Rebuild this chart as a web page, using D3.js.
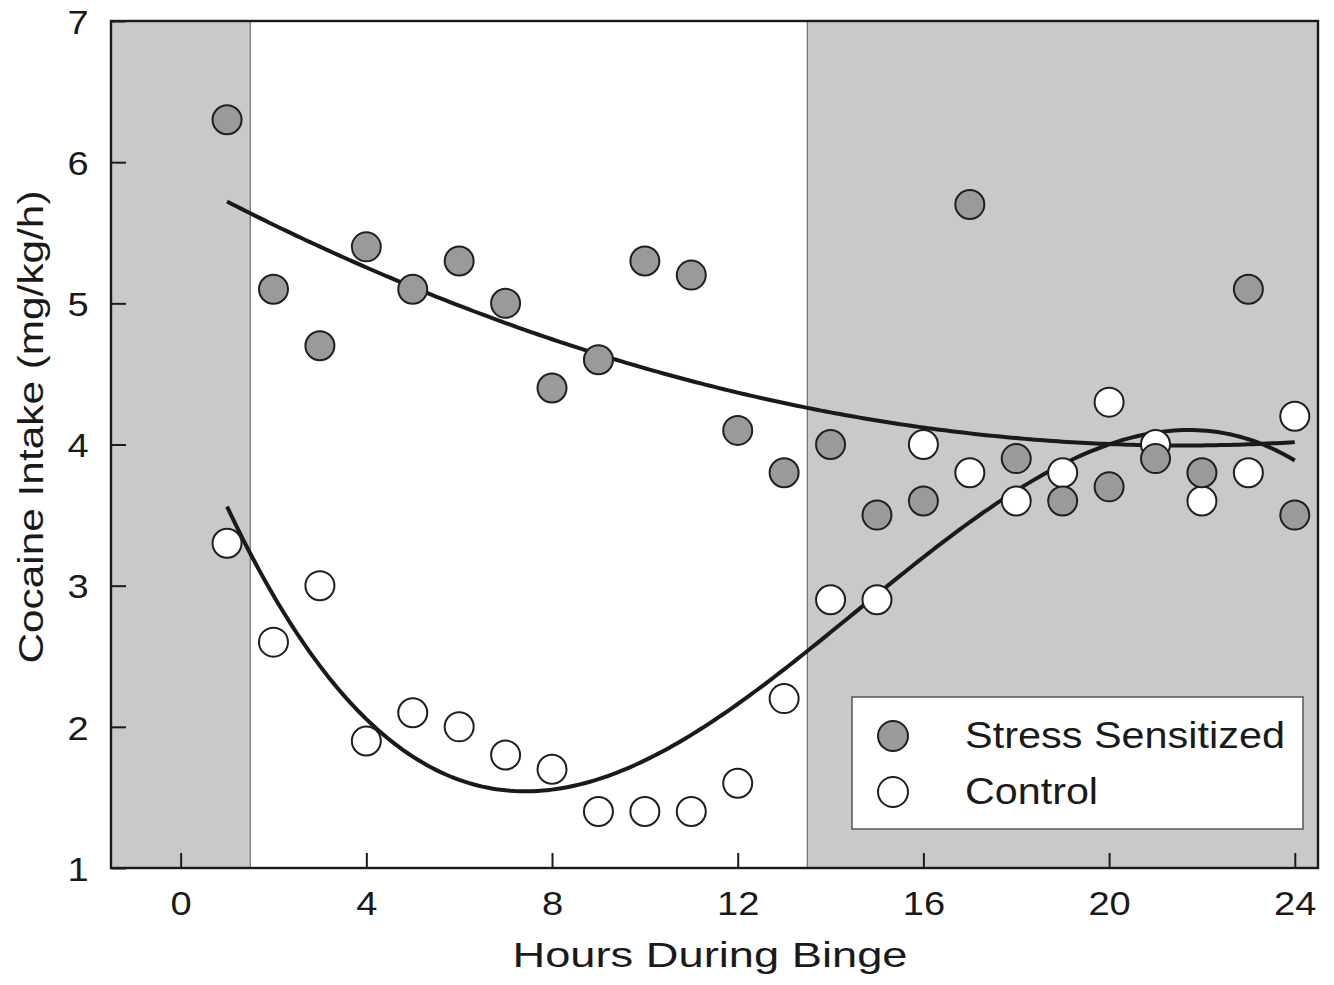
<!DOCTYPE html>
<html>
<head>
<meta charset="utf-8">
<script src="https://cdn.jsdelivr.net/npm/d3@7"></script>
<style>
  html, body { margin: 0; padding: 0; background: #fff; }
  svg text { font-family: "Liberation Sans", Arial, Helvetica, sans-serif; fill: #1a1a1a; }
</style>
</head>
<body>
<svg id="chart" width="1334" height="985"></svg>
<script>
// Hourly cocaine intake across a 24 h binge
const hours = [1, 2, 3, 4, 5, 6, 7, 8, 9, 10, 11, 12, 13, 14, 15, 16, 17, 18, 19, 20, 21, 22, 23, 24];
const stressSensitized = [6.3, 5.1, 4.7, 5.4, 5.1, 5.3, 5.0, 4.4, 4.6, 5.3, 5.2, 4.1, 3.8, 4.0, 3.5, 3.6, 5.7, 3.9, 3.6, 3.7, 3.9, 3.8, 5.1, 3.5];
const control = [3.3, 2.6, 3.0, 1.9, 2.1, 2.0, 1.8, 1.7, 1.4, 1.4, 1.4, 1.6, 2.2, 2.9, 2.9, 4.0, 3.8, 3.6, 3.8, 4.3, 4.0, 3.6, 3.8, 4.2];
const seriesNames = ["Stress Sensitized", "Control"];
const xTicks = [0, 4, 8, 12, 16, 20, 24];
const yTicks = [1, 2, 3, 4, 5, 6, 7];
// Dark phases of the light cycle (hours)
const darkPhases = [[-1.5, 1.5], [13.5, 24.5]];
const fitDegrees = [2, 3];

const svg = d3.select("#chart");
const margin = { left: 111, top: 21, right: 16, bottom: 117 };
const W = 1334, H = 985;
const x = d3.scaleLinear().domain([-1.5, 24.5]).range([margin.left, W - margin.right]);
const y = d3.scaleLinear().domain([1, 7]).range([H - margin.bottom, margin.top]);

// Least-squares polynomial regression
function polyFit(xs, ys, deg) {
  const n = deg + 1;
  const A = Array.from({ length: n }, () => new Array(n + 1).fill(0));
  xs.forEach((xv, i) => {
    for (let r = 0; r < n; r++) {
      for (let c = 0; c < n; c++) A[r][c] += Math.pow(xv, r + c);
      A[r][n] += ys[i] * Math.pow(xv, r);
    }
  });
  for (let p = 0; p < n; p++) {
    let best = p;
    for (let r = p + 1; r < n; r++) if (Math.abs(A[r][p]) > Math.abs(A[best][p])) best = r;
    [A[p], A[best]] = [A[best], A[p]];
    for (let r = 0; r < n; r++) {
      if (r === p) continue;
      const f = A[r][p] / A[p][p];
      for (let c = p; c <= n; c++) A[r][c] -= f * A[p][c];
    }
  }
  const coef = A.map((row, i) => row[n] / row[i]);
  return xv => coef.reduce((s, cf, i) => s + cf * Math.pow(xv, i), 0);
}

// Shaded dark phases
svg.append("g").selectAll("rect").data(darkPhases).join("rect")
  .attr("x", d => x(d[0])).attr("width", d => x(d[1]) - x(d[0]))
  .attr("y", y(7)).attr("height", y(1) - y(7))
  .attr("fill", "#c9c9c9");
svg.append("g").selectAll("line").data(darkPhases.flat().filter(v => v > -1.5 && v < 24.5)).join("line")
  .attr("x1", d => x(d)).attr("x2", d => x(d))
  .attr("y1", y(7)).attr("y2", y(1))
  .attr("stroke", "#6e6e6e").attr("stroke-width", 1.2);

// Axes with inward ticks
const xAxis = svg.append("g").attr("transform", `translate(0,${y(1)})`)
  .call(d3.axisBottom(x).tickValues(xTicks).tickSize(-15).tickPadding(47).tickFormat(d3.format("d")));
const yAxis = svg.append("g").attr("transform", `translate(${x(-1.5)},0)`)
  .call(d3.axisLeft(y).tickValues(yTicks).tickSize(-15).tickPadding(20).tickFormat(d3.format("d")));
[xAxis, yAxis].forEach(g => {
  g.select(".domain").remove();
  g.selectAll(".tick line").attr("stroke", "#1a1a1a").attr("stroke-width", 2);
  g.selectAll(".tick text").attr("font-size", 34).attr("fill", "#1a1a1a");
});
xAxis.selectAll(".tick text").attr("dy", 0).attr("transform", "scale(1.12,1)");
yAxis.selectAll(".tick text").attr("dy", "0.36em").attr("transform", "scale(1.12,1)");

// Frame
svg.append("rect")
  .attr("x", x(-1.5)).attr("y", y(7))
  .attr("width", x(24.5) - x(-1.5)).attr("height", y(1) - y(7))
  .attr("fill", "none").attr("stroke", "#1a1a1a").attr("stroke-width", 2.4);

// Fitted curves
const series = [
  { name: seriesNames[0], values: stressSensitized, fill: "#9a9a9a", deg: fitDegrees[0] },
  { name: seriesNames[1], values: control, fill: "#ffffff", deg: fitDegrees[1] }
];
const line = d3.line().x(d => x(d[0])).y(d => y(d[1]));
series.forEach(s => {
  const f = polyFit(hours, s.values, s.deg);
  const pts = d3.range(hours[0], hours[hours.length - 1] + 0.001, 0.1).map(h => [h, f(h)]);
  svg.append("path").datum(pts).attr("d", line)
    .attr("fill", "none").attr("stroke", "#1a1a1a").attr("stroke-width", 4);
});

// Data points (control underneath, stress on top)
[series[1], series[0]].forEach(s => {
  svg.append("g").selectAll("circle").data(hours.map((h, i) => [h, s.values[i]])).join("circle")
    .attr("cx", d => x(d[0])).attr("cy", d => y(d[1])).attr("r", 14.5)
    .attr("fill", s.fill).attr("stroke", "#1f1f1f").attr("stroke-width", 2);
});

// Legend
const lg = svg.append("g");
lg.append("rect").attr("x", 852).attr("y", 697).attr("width", 451).attr("height", 132)
  .attr("fill", "#fff").attr("stroke", "#555").attr("stroke-width", 1.5);
series.forEach((s, i) => {
  const cy = 736 + i * 56;
  lg.append("circle").attr("cx", 893).attr("cy", cy).attr("r", 15)
    .attr("fill", s.fill).attr("stroke", "#1f1f1f").attr("stroke-width", 2);
  lg.append("text").attr("x", 965).attr("y", cy + 12).attr("font-size", 36)
    .attr("textLength", i === 0 ? 320 : 133).attr("lengthAdjust", "spacingAndGlyphs")
    .text(s.name);
});

// Axis titles
svg.append("text").attr("x", 710).attr("y", 967).attr("text-anchor", "middle")
  .attr("font-size", 35).attr("textLength", 395).attr("lengthAdjust", "spacingAndGlyphs")
  .text("Hours During Binge");
svg.append("text").attr("transform", "translate(43,427) rotate(-90)").attr("text-anchor", "middle")
  .attr("font-size", 35).attr("textLength", 473).attr("lengthAdjust", "spacingAndGlyphs")
  .text("Cocaine Intake (mg/kg/h)");
</script>
</body>
</html>
